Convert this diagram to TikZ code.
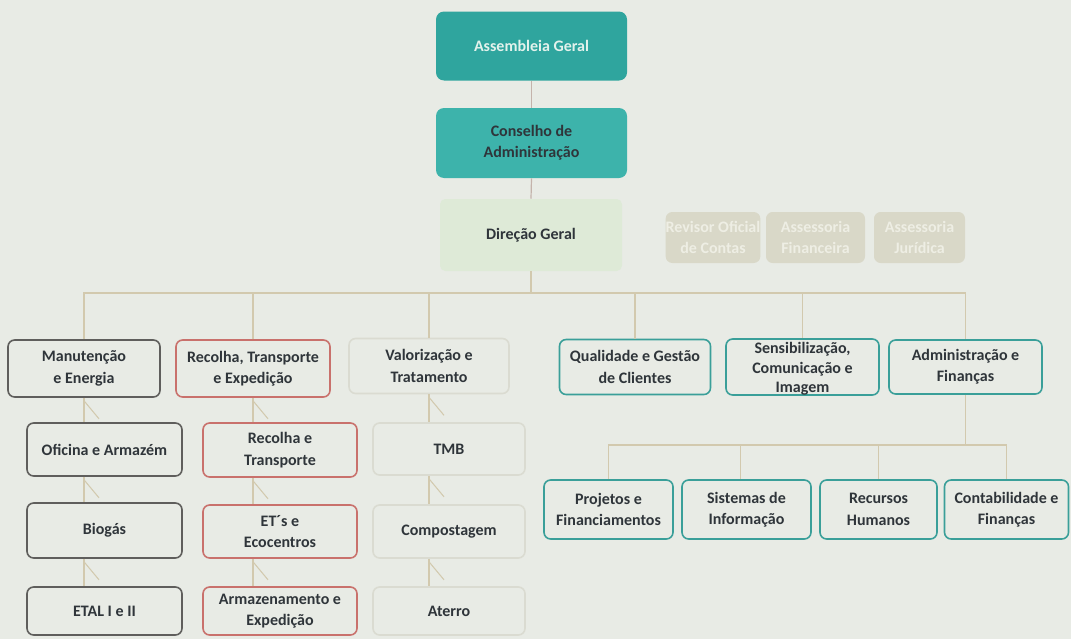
\documentclass[tikz,border=0pt]{standalone}
\usepackage{fontspec}
\setmainfont{Carlito}
\definecolor{bgc}{HTML}{E8EBE5}
\definecolor{tealA}{HTML}{2FA59E}
\definecolor{tealB}{HTML}{3DB3AB}
\definecolor{tealL}{HTML}{3A9F99}
\definecolor{dgfill}{HTML}{DEEAD7}
\definecolor{faint}{HTML}{D9D8C8}
\definecolor{fainttxt}{HTML}{EEEEE4}
\definecolor{grayb}{HTML}{5F5E5C}
\definecolor{redb}{HTML}{C9716C}
\definecolor{paleb}{HTML}{DADBD1}
\definecolor{lnc}{HTML}{D2C9AE}
\definecolor{mainln}{HTML}{C4B3AB}
\definecolor{txt}{HTML}{2F353A}
\definecolor{agtxt}{HTML}{E3F2EC}
\newcommand\subc[3]{%
  \draw[ln] (#1.south -| #3.south) -- (#2.north -| #3.south);
  \draw[ln] (#1.south -| #3.south) ++(0,3) -- ++(15,18);}
\begin{document}
\begin{tikzpicture}[x=0.75pt,y=-0.75pt,
  every node/.style={font=\bfseries\fontsize{12}{16}\selectfont, text=txt, align=center},
  sz/.style 2 args={minimum width=#1*0.75pt, minimum height=#2*0.75pt},
  box/.style={rounded corners=5pt, line width=1.2pt, inner sep=0pt, fill=bgc},
  gbox/.style={box, draw=grayb},
  rbox/.style={box, draw=redb},
  pbox/.style={box, draw=paleb},
  tbox/.style={box, draw=tealL},
  topbox/.style={rounded corners=6pt, inner sep=0pt, sz={191}{69}},
  fbox/.style={rounded corners=5pt, inner sep=0pt, fill=faint, text=fainttxt},
  ln/.style={draw=lnc, line width=0.8pt},
  mln/.style={draw=mainln, line width=0.9pt}]
\useasboundingbox (0,0) rectangle (1071,639);
\fill[bgc] (0,0) rectangle (1071,639);
% top
\node[topbox, fill=tealA, text=agtxt] (ag) at (531.5,46) {Assembleia Geral};
\node[topbox, fill=tealB, sz={191}{70}] (ca) at (531.5,143) {Conselho de\\Administração};
\node[rounded corners=4pt, inner sep=0pt, fill=dgfill, sz={182}{72}] (dg) at (531,235) {Direção Geral};
\node[fbox, sz={90}{51}] (rev) at (713,237.5) {Revisor Oficial\\de Contas};
\node[fbox, sz={99}{51}] (asf) at (815.5,237.5) {Assessoria\\Financeira};
\node[fbox, sz={91}{51}] (asj) at (919.5,237.5) {Assessoria\\Jurídica};
% level 2
\node[gbox, sz={152}{57}] (me) at (84,368.5) {Manutenção\\e Energia};
\node[rbox, sz={154}{57}] (rte) at (253,368.5) {Recolha, Transporte\\e Expedição};
\node[pbox, sz={160}{55}] (vt) at (429,366) {Valorização e\\Tratamento};
\node[tbox, sz={151}{55}] (qgc) at (635,367) {Qualidade e Gestão\\de Clientes};
\node[tbox, sz={153}{56}] (sci) at (802.5,367) {};
\node[font=\bfseries\fontsize{12}{14.5}\selectfont] (scit) at (802.5,369) {Sensibilização,\\Comunicação e\\Imagem};
\node[tbox, sz={153}{54}] (adm) at (965.5,367) {Administração e\\Finanças};
% level 3 left
\node[gbox, sz={155}{53}] (of) at (104.5,449.5) {Oficina e Armazém};
\node[gbox, sz={155}{55}] (bio) at (104.5,530.5) {Biogás};
\node[gbox, sz={155}{48}] (etal) at (104.5,611) {ETAL I e II};
\node[rbox, sz={154}{54}] (rt) at (280,450) {Recolha e\\Transporte};
\node[rbox, sz={154}{53}] (ete) at (280,531.5) {ET´s e\\Ecocentros};
\node[rbox, sz={154}{48}] (arm) at (280,611) {Armazenamento e\\Expedição};
\node[pbox, sz={152}{52}] (tmb) at (449,449) {TMB};
\node[pbox, sz={152}{53}] (comp) at (449,531.5) {Compostagem};
\node[pbox, sz={152}{48}] (at) at (449,611) {Aterro};
% level 3 right
\node[tbox, sz={129}{59}] (pf) at (608.5,509.5) {Projetos e\\Financiamentos};
\node[tbox, sz={129}{59}] (si) at (746.5,509.5) {Sistemas de\\Informação};
\node[tbox, sz={117}{59}] (rh) at (878.5,509.5) {Recursos\\Humanos};
\node[tbox, sz={124}{59}] (cf) at (1006.5,509.5) {Contabilidade e\\Finanças};
% connectors
\coordinate (bus) at (531,293);
\coordinate (bus2) at (967,445);
\draw[mln] (ag.south) -- (ca.north);
\draw[mln] (ca.south) -- (dg.north);
\draw[ln] (dg.south) -- (bus);
\draw[ln] (me.north) |- (bus) -| (adm.north);
\foreach \n in {rte,vt,qgc,sci} \draw[ln] (\n.north) -- (\n.north |- bus);
\subc{me}{of}{me}
\subc{of}{bio}{me}
\subc{bio}{etal}{me}
\subc{rte}{rt}{rte}
\subc{rt}{ete}{rte}
\subc{ete}{arm}{rte}
\subc{vt}{tmb}{vt}
\subc{tmb}{comp}{vt}
\subc{comp}{at}{vt}
\draw[ln] (adm.south) -- (adm.south |- bus2);
\draw[ln] (pf.north) |- (bus2) -| (cf.north);
\draw[ln] ([xshift=-4.5pt]si.north) -- ([xshift=-4.5pt]si.north |- bus2);
\draw[ln] (rh.north) -- (rh.north |- bus2);
\end{tikzpicture}
\end{document}
